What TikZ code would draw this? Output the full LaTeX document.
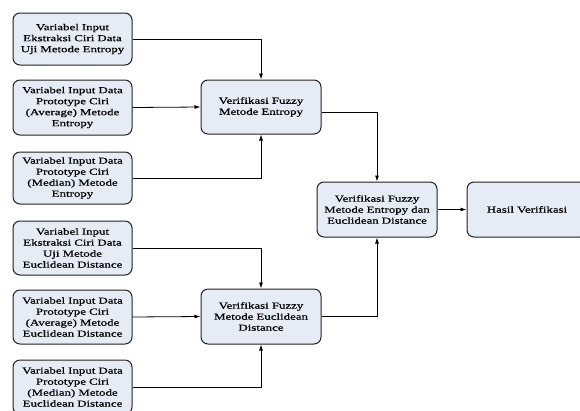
\documentclass[tikz,border=0pt]{standalone}
\usepackage{fontspec}
\setmainfont{Liberation Serif}[FakeStretch=1.40, FakeBold=0.6]
\usetikzlibrary{arrows.meta}
\definecolor{boxfill}{HTML}{E6ECF6}
\definecolor{boxline}{HTML}{222222}
\tikzset{
  flowbox/.style={draw=boxline, fill=boxfill, line width=1pt, rounded corners=7pt,
    minimum width=119pt, inner sep=2pt, align=center, text width=112pt,
    font=\fontsize{9.2}{11}\selectfont},
  flow/.style={draw=black, line width=0.8pt, -{Latex[length=6pt,width=4pt]}},
}
\begin{document}
\begin{tikzpicture}[x=1pt,y=-1pt]
\useasboundingbox (0,0) rectangle (580,410);
\clip (0,0) rectangle (580,410);

% entropy inputs
\node[flowbox, minimum height=52pt] (e1) at (72.5,39) {Variabel Input\\Ekstraksi Ciri Data\\Uji Metode Entropy};
\node[flowbox, minimum height=55pt] (e2) at (72.5,107.5) {Variabel Input Data\\Prototype Ciri\\(Average) Metode\\Entropy};
\node[flowbox, minimum height=52pt] (e3) at (72.5,178) {Variabel Input Data\\Prototype Ciri\\(Median) Metode\\Entropy};

% euclidean inputs
\node[flowbox, minimum height=54pt] (d1) at (72.5,248) {Variabel Input\\Ekstraksi Ciri Data\\Uji Metode\\Euclidean Distance};
\node[flowbox, minimum height=54pt] (d2) at (72.5,317) {Variabel Input Data\\Prototype Ciri\\(Average) Metode\\Euclidean Distance};
\node[flowbox, minimum height=54pt] (d3) at (72.5,387) {Variabel Input Data\\Prototype Ciri\\(Median) Metode\\Euclidean Distance};

% verification stages
\node[flowbox, minimum height=54pt, minimum width=120pt] (ve) at (261,107) {Verifikasi Fuzzy\\Metode Entropy};
\node[flowbox, minimum height=55pt, minimum width=120pt] (vd) at (261,316.5) {Verifikasi Fuzzy\\Metode Euclidean\\Distance};
\node[flowbox, minimum height=55pt, minimum width=120pt] (vc) at (377,209.5) {Verifikasi Fuzzy\\Metode Entropy dan\\Euclidean Distance};
\node[flowbox, minimum height=55pt, minimum width=120pt] (hv) at (527,209.5) {Hasil Verifikasi};

% connectors
\draw[flow] (e1.east) -| (ve.north);
\draw[flow] (e2.east) -- (ve.west);
\draw[flow] (e3.east) -| (ve.south);
\draw[flow] (d1.east) -| (vd.north);
\draw[flow] (d2.east) -- (vd.west);
\draw[flow] (d3.east) -| (vd.south);
\draw[flow] ([yshift=-5pt]ve.east) -| (vc.north);
\draw[flow] (vd.east) -| (vc.south);
\draw[flow] (vc.east) -- (hv.west);
\end{tikzpicture}
\end{document}
